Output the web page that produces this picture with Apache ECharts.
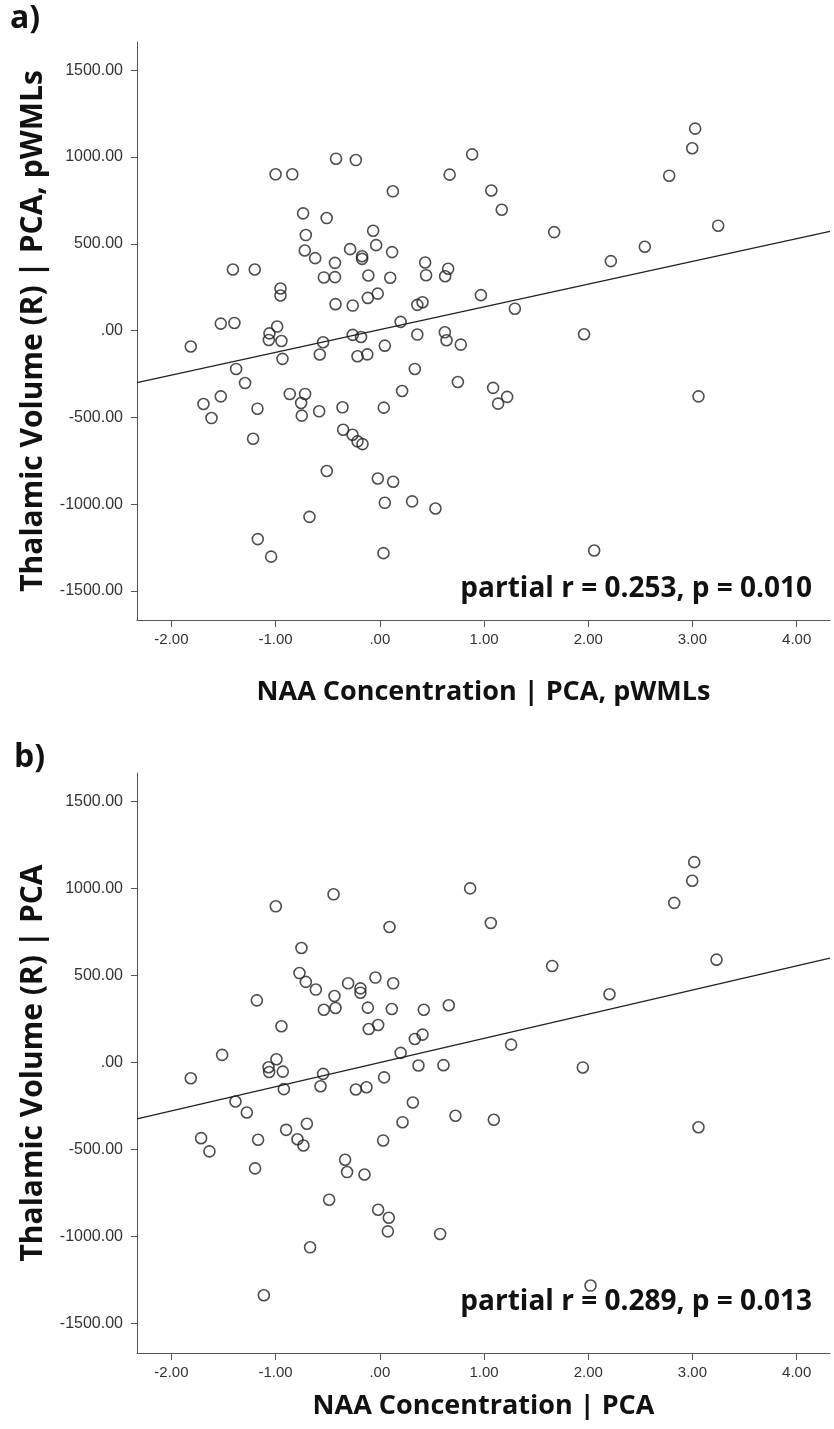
<!DOCTYPE html>
<html>
<head>
<meta charset="utf-8">
<script src="https://cdn.jsdelivr.net/npm/echarts@6/dist/echarts.min.js"></script>
<style>
html,body{margin:0;padding:0;background:#fff;}
#chart{width:834px;height:1429px;}
</style>
</head>
<body>
<div id="chart"></div>
<script>
// ---------- Data ----------
const xTicks = [-2, -1, 0, 1, 2, 3, 4];
const yTicks = [-1500, -1000, -500, 0, 500, 1000, 1500];

// Panel a: NAA Concentration | PCA, pWMLs  vs  Thalamic Volume (R) | PCA, pWMLs
const naaA = [-1.00,-0.84,-0.42,-0.23,0.886,0.67,0.125,-0.736,-0.51,-0.71,-0.064,-0.035,-0.285,-0.17,-0.17,0.118,-0.72,-0.62,-0.43,0.435,0.444,0.656,0.627,-1.41,-1.20,-0.537,-0.43,-0.11,0.10,-0.953,-0.953,-0.425,-0.26,-0.115,-0.02,0.97,0.36,0.41,-1.526,-1.395,-0.985,0.20,1.07,1.17,1.673,2.217,2.543,2.777,2.998,3.026,3.247,1.296,-1.814,-1.059,-1.065,-0.944,-0.934,-0.544,-0.576,-0.26,-0.18,-0.214,-0.12,0.36,0.048,0.624,0.64,0.777,-1.379,-1.293,-1.692,-1.526,-1.615,-1.174,-1.216,-0.864,-0.717,-0.755,-0.749,-0.582,-0.358,-0.352,-0.262,-0.214,-0.166,0.038,0.214,0.336,0.749,-0.509,-0.019,0.128,0.048,0.31,0.534,-0.675,-1.171,-1.043,0.035,1.96,1.087,1.222,1.135,3.058,2.057];
const thalA = [900,900,990,982,1015,898,802,675,648,550,575,492,469,428,413,452,461,417,390,392,319,356,313,352,352,306,308,317,304,242,202,152,144,188,213,204,148,163,40,44,23,50,807,696,567,400,483,892,1050,1163,604,126,-92,-16,-54,-60,-163,-67,-138,-25,-37,-148,-137,-23,-87,-10,-56,-81,-221,-302,-423,-379,-504,-450,-623,-365,-365,-417,-490,-465,-442,-571,-600,-638,-654,-444,-348,-221,-296,-809,-852,-871,-992,-984,-1025,-1073,-1201,-1302,-1282,-21,-330,-382,-421,-379,-1267];
const fitA = [[-2.33, -300], [4.32, 571]];

// Panel b: NAA Concentration | PCA  vs  Thalamic Volume (R) | PCA
const naaB = [-0.998,-0.444,0.867,0.093,-0.752,-0.771,-0.71,-0.614,-0.304,-0.186,-0.186,-0.042,0.128,-0.435,-1.18,-0.537,-0.425,-0.115,0.115,0.422,0.662,-0.944,-0.106,-0.016,0.336,0.41,-1.513,-0.992,-1.068,-1.062,-0.931,0.2,0.371,0.611,-1.814,-0.544,0.041,-0.569,-0.921,-0.23,-0.128,-1.385,-1.276,0.317,0.726,0.218,-1.715,-1.635,-1.168,-0.899,-0.70,-0.79,-0.733,0.032,-1.197,-0.333,-0.314,-0.147,-0.486,-0.016,0.086,0.077,0.579,-0.669,-1.113,1.065,1.654,2.204,2.825,2.998,3.017,3.231,1.26,1.948,1.094,3.058,2.022];
const thalB = [898,967,1001,779,658,514,463,419,455,426,401,488,455,382,357,303,313,315,307,303,329,208,192,215,135,160,43,18,-28,-55,-53,55,-18,-16,-91,-66,-86,-137,-154,-156,-143,-225,-288,-231,-307,-344,-436,-512,-445,-388,-353,-442,-478,-449,-610,-560,-631,-645,-790,-848,-894,-972,-987,-1064,-1340,802,555,392,918,1045,1152,591,102,-29,-330,-373,-1284];
const fitB = [[-2.33, -325], [4.32, 600]];

const statA = 'partial r = 0.253, p = 0.010';
const statB = 'partial r = 0.289, p = 0.013';
const xTitleA = 'NAA Concentration | PCA, pWMLs';
const yTitleA = 'Thalamic Volume (R) | PCA, pWMLs';
const xTitleB = 'NAA Concentration | PCA';
const yTitleB = 'Thalamic Volume (R) | PCA';

// ---------- Chart ----------
const fmt = v => (Math.abs(v) < 1e-9 ? '.00' : v.toFixed(2));
const axisCol = '#555';
const titleFont = '"Open Sans", "Noto Sans", sans-serif';
const tickFont = '"Liberation Sans", Arial, sans-serif';

function mkX(idx, name, gap) {
  return {
    type: 'value', gridIndex: idx, min: -2.33, max: 4.32,
    name: name, nameLocation: 'middle', nameGap: gap,
    nameTextStyle: {fontFamily: titleFont, fontWeight: 'bold', fontSize: 27, color: '#111'},
    axisLine: {show: true, onZero: false, lineStyle: {color: axisCol, width: 1}},
    axisTick: {show: true, customValues: xTicks, length: 7, lineStyle: {color: axisCol, width: 1}},
    axisLabel: {show: true, customValues: xTicks, formatter: fmt, margin: 12,
      fontFamily: tickFont, fontSize: 15, color: '#333'},
    splitLine: {show: false}
  };
}
function mkY(idx, name, min, max) {
  return {
    type: 'value', gridIndex: idx, min: min, max: max,
    name: name, nameLocation: 'middle', nameGap: 87, nameRotate: 90,
    nameTextStyle: {fontFamily: titleFont, fontWeight: 'bold', fontSize: 30, color: '#111'},
    axisLine: {show: true, onZero: false, lineStyle: {color: axisCol, width: 1}},
    axisTick: {show: true, customValues: yTicks, length: 6, lineStyle: {color: axisCol, width: 1}},
    axisLabel: {show: true, customValues: yTicks, formatter: fmt, margin: 14,
      fontFamily: tickFont, fontSize: 16, color: '#333'},
    splitLine: {show: false}
  };
}
function pts(xs, ys) { return xs.map((x, i) => [x, ys[i]]); }
function scatter(idx, xs, ys) {
  return {
    type: 'scatter', xAxisIndex: idx, yAxisIndex: idx, data: pts(xs, ys),
    symbol: 'circle', symbolSize: 11,
    itemStyle: {color: 'rgba(0,0,0,0)', borderColor: '#222', borderWidth: 1.6},
    silent: true, z: 3
  };
}
function fitLine(idx, d) {
  return {
    type: 'line', xAxisIndex: idx, yAxisIndex: idx, data: d,
    showSymbol: false, lineStyle: {color: '#222', width: 1.4}, silent: true, z: 2
  };
}

const chart = echarts.init(document.getElementById('chart'), null, {renderer: 'canvas'});
chart.setOption({
  animation: false,
  backgroundColor: '#fff',
  grid: [
    {left: 137, top: 42, width: 693, height: 578},
    {left: 137, top: 773, width: 693, height: 580}
  ],
  xAxis: [mkX(0, xTitleA, 59), mkX(1, xTitleB, 40)],
  yAxis: [mkY(0, yTitleA, -1667, 1662), mkY(1, yTitleB, -1672, 1665)],
  series: [
    fitLine(0, fitA), scatter(0, naaA, thalA),
    fitLine(1, fitB), scatter(1, naaB, thalB)
  ],
  graphic: [
    {type: 'text', left: 10, top: 3, style: {text: 'a)', font: 'bold 32px ' + titleFont, fill: '#111'}},
    {type: 'text', left: 14, top: 742, style: {text: 'b)', font: 'bold 32px ' + titleFont, fill: '#111'}},
    {type: 'text', x: 812, y: 589, style: {text: statA, font: 'bold 28px ' + titleFont, fill: '#111', align: 'right', verticalAlign: 'middle'}},
    {type: 'text', x: 812, y: 1302, style: {text: statB, font: 'bold 28px ' + titleFont, fill: '#111', align: 'right', verticalAlign: 'middle'}}
  ]
});
</script>
</body>
</html>
